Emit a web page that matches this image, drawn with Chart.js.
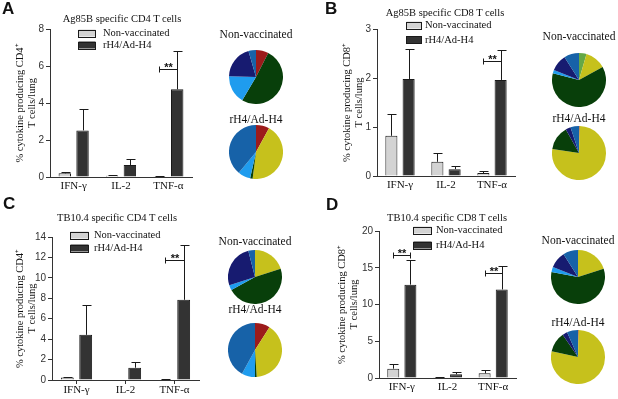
<!DOCTYPE html>
<html>
<head>
<meta charset="utf-8">
<script src="https://cdn.jsdelivr.net/npm/chart.js@4.4.0/dist/chart.umd.min.js"></script>
<style>
  body { margin: 0; background: #fff; }
  #wrap { position: relative; width: 618px; height: 399px; overflow: hidden; background: #fff; font-family: "Liberation Serif", serif; color: #111; }
  #wrap canvas { position: absolute; }
  .letter { position: absolute; font: bold 17px "Liberation Sans", Arial, sans-serif; line-height: 17px; }
  .ttl { position: absolute; white-space: nowrap; line-height: 1; transform: translate(-50%, -50%); }
</style>
</head>
<body>
<div id="wrap"></div>
<script>
// --- categories / groups ---
const cytokines = ['IFN-γ', 'IL-2', 'TNF-α'];
const groups = ['Non-vaccinated', 'rH4/Ad-H4'];

// --- A: Ag85B specific CD4 ---
const aNon = [0.2, 0.07, 0.02];
const aNonSem = [0.06, 0.03, 0.01];
const aVac = [2.52, 0.65, 4.74];
const aVacSem = [1.13, 0.30, 2.09];
const aSig = [null, null, 5.85];
const aTicks = [0, 2, 4, 6, 8];

// --- B: Ag85B specific CD8 ---
const bNon = [0.82, 0.29, 0.06];
const bNonSem = [0.44, 0.17, 0.04];
const bVac = [1.98, 0.14, 1.96];
const bVacSem = [0.61, 0.07, 0.61];
const bSig = [null, null, 2.35];
const bTicks = [0, 1, 2, 3];

// --- C: TB10.4 specific CD4 ---
const cNon = [0.25, 0, 0.05];
const cNonSem = [0.08, 0, 0.02];
const cVac = [4.42, 1.2, 7.85];
const cVacSem = [2.88, 0.6, 5.35];
const cSig = [null, null, 11.75];
const cTicks = [0, 2, 4, 6, 8, 10, 12, 14];

// --- D: TB10.4 specific CD8 ---
const dNon = [1.27, 0.1, 0.64];
const dNonSem = [0.68, 0.05, 0.41];
const dVac = [12.7, 0.5, 12.05];
const dVacSem = [3.3, 0.27, 3.25];
const dSig = [16.7, null, 14.3];
const dTicks = [0, 5, 10, 15, 20];

// --- pies (share of subsets, clockwise from 12 o'clock) ---
const pieSubsets = ['subset 1', 'subset 2', 'subset 3', 'subset 4', 'subset 5', 'subset 6', 'subset 7'];
const pieColors = ['#9c1b1b', '#64a846', '#c6c11c', '#083f0a', '#1f9cee', '#171b70', '#1762a8'];
const pieANon = [7.5, 0, 0, 51, 17, 20, 4.5];
const pieAVac = [8, 0, 44, 1.5, 7.5, 0, 39];
const pieBNon = [0, 4.5, 12.5, 62, 2, 10, 9];
const pieBVac = [0.4, 0, 77, 14.5, 0, 3, 5.1];
const pieCNon = [0, 0, 20, 47, 3, 26, 4];
const pieCVac = [9, 0, 40, 1, 8, 0, 42];
const pieDNon = [0, 0, 20, 58, 3, 10, 9];
const pieDVac = [0.4, 0, 78, 12, 0, 3, 6.6];

const wrap = document.getElementById('wrap');
const SERIF = '"Liberation Serif", "Times New Roman", serif';
const SANS = '"Liberation Sans", Arial, sans-serif';

function addCanvas(left, top, w, h) {
    const c = document.createElement('canvas');
    c.width = w; c.height = h;
    c.style.left = left + 'px';
    c.style.top = top + 'px';
    c.style.width = w + 'px';
    c.style.height = h + 'px';
    wrap.appendChild(c);
    return c;
}

function addText(cls, txt, x, y, size) {
    const d = document.createElement('div');
    d.className = cls;
    d.textContent = txt;
    d.style.left = x + 'px';
    d.style.top = y + 'px';
    if (size) d.style.fontSize = size + 'px';
    wrap.appendChild(d);
}

// error bars (upward only) + significance brackets
const errorBars = {
    id: 'errorBars',
    afterDatasetsDraw(chart) {
        const ctx = chart.ctx;
        const y = chart.scales.y;
        ctx.save();
        ctx.strokeStyle = '#1a1a1a';
        ctx.lineWidth = 1;
        chart.data.datasets.forEach((ds, i) => {
            const meta = chart.getDatasetMeta(i);
            meta.data.forEach((bar, j) => {
                const sem = ds.sem[j];
                if (!sem) return;
                const yTop = Math.round(y.getPixelForValue(ds.data[j] + sem)) + 0.5;
                const x = Math.round(bar.x) + 0.5;
                ctx.beginPath();
                ctx.moveTo(x, bar.y);
                ctx.lineTo(x, yTop);
                ctx.moveTo(x - 4, yTop);
                ctx.lineTo(x + 5, yTop);
                ctx.stroke();
            });
        });
        const sig = chart.options.plugins.errorBars.sig || [];
        const m0 = chart.getDatasetMeta(0), m1 = chart.getDatasetMeta(1);
        sig.forEach((v, j) => {
            if (v == null) return;
            const yy = Math.round(y.getPixelForValue(v)) + 0.5;
            const x0 = Math.round(m0.data[j].x) + 0.5, x1 = Math.round(m1.data[j].x) + 0.5;
            ctx.beginPath();
            ctx.moveTo(x0, yy); ctx.lineTo(x1, yy);
            ctx.moveTo(x0, yy - 3); ctx.lineTo(x0, yy + 3);
            ctx.moveTo(x1, yy - 3); ctx.lineTo(x1, yy + 3);
            ctx.stroke();
            ctx.fillStyle = '#111';
            ctx.font = 'bold 11px ' + SANS;
            ctx.textAlign = 'center';
            ctx.textBaseline = 'alphabetic';
            ctx.fillText('**', (x0 + x1) / 2, yy + 1);
        });
        ctx.restore();
    }
};

// legend boxes drawn inside the plot
const boxLegend = {
    id: 'boxLegend',
    afterDraw(chart) {
        const o = chart.options.plugins.boxLegend;
        const ctx = chart.ctx;
        ctx.save();
        chart.data.datasets.forEach((ds, i) => {
            const cy = o.y + i * o.gap;
            ctx.fillStyle = ds.backgroundColor;
            ctx.fillRect(o.x + 0.5, cy - 3.5, o.w, 7);
            ctx.strokeStyle = '#1a1a1a';
            ctx.lineWidth = 1;
            ctx.strokeRect(o.x + 0.5, Math.round(cy - 3.5) + 0.5, o.w, 7);
            ctx.fillStyle = '#111';
            ctx.font = '10.5px ' + SERIF;
            ctx.textBaseline = 'middle';
            ctx.textAlign = 'left';
            ctx.fillText(ds.label, o.tx, cy + 0.5);
        });
        ctx.restore();
    }
};

function makeBar(p) {
    const [L, T, W, H] = p.box;
    const cv = addCanvas(L, T, W, H);
    new Chart(cv, {
        type: 'bar',
        data: {
            labels: cytokines,
            datasets: [
                { label: groups[0], data: p.non, sem: p.nonSem, backgroundColor: '#d3d3d3', borderColor: '#1a1a1a', borderWidth: 1 },
                { label: groups[1], data: p.vac, sem: p.vacSem, backgroundColor: '#333333', borderColor: '#1a1a1a', borderWidth: 1 }
            ]
        },
        options: {
            responsive: false,
            animation: false,
            datasets: { bar: { barPercentage: 0.7, categoryPercentage: 0.75 } },
            layout: { padding: { top: p.padTop, right: p.padRight, left: 0, bottom: 0 } },
            plugins: {
                legend: { display: false },
                tooltip: { enabled: false },
                errorBars: { sig: p.sig },
                boxLegend: { x: p.legend[0] - L, y: p.legend[1] - T, gap: p.legend[2], tx: p.legend[3] - L, w: p.legend[4] }
            },
            scales: {
                x: {
                    grid: { display: true, drawOnChartArea: false, drawTicks: p.xTicks, tickLength: 4, offset: false, color: '#333' },
                    border: { color: '#333', width: 1 },
                    ticks: { color: '#111', font: { family: SERIF, size: 11 }, padding: p.xTicks ? 0 : 3 },
                    afterFit(s) { s.height = p.xH; }
                },
                y: {
                    min: 0,
                    max: p.ticks[p.ticks.length - 1],
                    afterBuildTicks(s) { s.ticks = p.ticks.map(v => ({ value: v })); },
                    grid: { drawOnChartArea: false, tickLength: 4, color: '#333' },
                    border: { color: '#333', width: 1 },
                    ticks: { color: '#333', font: { family: SANS, size: 10 }, padding: 2 },
                    title: {
                        display: true,
                        text: ['% cytokine producing ' + p.cell + '\u207A', 'T cells/lung'],
                        color: '#111',
                        font: { family: SERIF, size: 10.5, lineHeight: 1.15 },
                        padding: { top: p.yTitlePad, bottom: 0 }
                    },
                    afterFit(s) { s.width = p.yW; }
                }
            }
        },
        plugins: [errorBars, boxLegend]
    });
    addText('letter', p.letter, p.letterXY[0], p.letterXY[1]);
    addText('ttl', p.title, p.titleXY[0], p.titleXY[1], 10.5);
}

function makePie(values, cx, cy, label, ly) {
    const cv = addCanvas(cx - 27, cy - 27, 54, 54);
    new Chart(cv, {
        type: 'pie',
        data: { labels: pieSubsets, datasets: [{ data: values, backgroundColor: pieColors, borderWidth: 0 }] },
        options: {
            responsive: false,
            animation: false,
            plugins: { legend: { display: false }, tooltip: { enabled: false } }
        }
    });
    addText('ttl', label, cx, ly, 11.5);
}

const panels = [
    { letter: 'A', letterXY: [2, 0], title: 'Ag85B specific CD4 T cells', titleXY: [122, 19], cell: 'CD4',
      non: aNon, nonSem: aNonSem, vac: aVac, vacSem: aVacSem, sig: aSig, ticks: aTicks,
      box: [0, 0, 200, 199], padTop: 29, padRight: 8, yW: 50, xH: 22, yTitlePad: 14, xTicks: false,
      legend: [78, 33, 12, 103, 17] },
    { letter: 'B', letterXY: [325, 0], title: 'Ag85B specific CD8 T cells', titleXY: [445, 13], cell: 'CD8',
      non: bNon, nonSem: bNonSem, vac: bVac, vacSem: bVacSem, sig: bSig, ticks: bTicks,
      box: [300, 0, 225, 199], padTop: 29, padRight: 10, yW: 77, xH: 23, yTitlePad: 41, xTicks: false,
      legend: [406, 25, 14.5, 425, 15] },
    { letter: 'C', letterXY: [3, 195], title: 'TB10.4 specific CD4 T cells', titleXY: [117, 218], cell: 'CD4',
      non: cNon, nonSem: cNonSem, vac: cVac, vacSem: cVacSem, sig: cSig, ticks: cTicks,
      box: [0, 199, 205, 200], padTop: 38, padRight: 6, yW: 52, xH: 19, yTitlePad: 14, xTicks: true,
      legend: [70, 235, 13, 94, 18] },
    { letter: 'D', letterXY: [326, 196], title: 'TB10.4 specific CD8 T cells', titleXY: [447, 218], cell: 'CD8',
      non: dNon, nonSem: dNonSem, vac: dVac, vacSem: dVacSem, sig: dSig, ticks: dTicks,
      box: [300, 199, 225, 200], padTop: 32, padRight: 9, yW: 79, xH: 21, yTitlePad: 36, xTicks: false,
      legend: [413, 230, 15, 436, 18] }
];

panels.forEach(makeBar);

makePie(pieANon, 256, 77, groups[0], 35);
makePie(pieAVac, 256, 152, groups[1], 120);
makePie(pieBNon, 579, 80, groups[0], 37);
makePie(pieBVac, 579, 153, groups[1], 119);
makePie(pieCNon, 255, 277, groups[0], 242);
makePie(pieCVac, 255, 350, groups[1], 310);
makePie(pieDNon, 578, 277, groups[0], 241);
makePie(pieDVac, 578, 357, groups[1], 323);
</script>
</body>
</html>
